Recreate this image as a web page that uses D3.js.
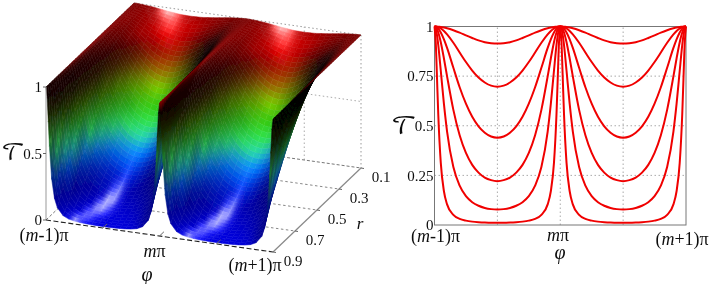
<!DOCTYPE html>
<html>
<head>
<meta charset="utf-8">
<script src="https://cdn.jsdelivr.net/npm/d3@7"></script>
<style>
  html, body { margin: 0; padding: 0; background: #fff; }
  svg { display: block; }
  text { font-family: "Liberation Serif", serif; fill: #111; }
</style>
</head>
<body>
<div id="chart"></div>
<script>
// phase inside one period, as a fraction of it, up to the middle of the well
var phaseSamples = [0, .01, .02, .03, .05, .075, .1, .15, .2, .25, .3, .35, .4, .45, .5];

var rValues = [.1, .15, .2, .25, .3, .35, .4, .45, .5, .55, .6, .65, .7, .75, .8, .85, .9];

// transmission read per r row, one value per phase sample
var transmission = [
    [1, 1, 1, 1, .999, .998, .996, .992, .986, .980, .974, .969, .964, .962, .961],
    [1, 1, 1, .999, .998, .995, .991, .981, .969, .955, .942, .930, .921, .916, .914],
    [1, 1, .999, .998, .996, .991, .984, .965, .943, .920, .898, .879, .864, .855, .852],
    [1, 1, .999, .998, .993, .985, .974, .945, .910, .875, .843, .816, .795, .783, .779],
    [1, 1, .998, .996, .990, .977, .960, .918, .869, .821, .778, .743, .718, .702, .697],
    [1, .999, .998, .994, .985, .966, .943, .884, .820, .759, .706, .664, .635, .617, .611],
    [1, .999, .996, .992, .978, .953, .920, .843, .761, .688, .627, .581, .549, .531, .524],
    [1, .999, .995, .989, .970, .935, .892, .792, .694, .611, .545, .497, .465, .446, .440],
    [1, .998, .993, .984, .958, .912, .855, .732, .619, .529, .462, .415, .383, .366, .360],
    [1, .998, .990, .978, .943, .881, .808, .661, .538, .446, .381, .336, .308, .292, .287],
    [1, .997, .986, .970, .921, .839, .749, .580, .452, .363, .303, .264, .239, .226, .221],
    [1, .995, .980, .957, .890, .784, .674, .489, .364, .283, .232, .199, .179, .168, .165],
    [1, .993, .971, .937, .844, .709, .581, .392, .277, .210, .169, .143, .128, .120, .117],
    [1, .989, .956, .906, .777, .610, .471, .292, .198, .145, .115, .097, .086, .080, .078],
    [1, .981, .928, .851, .674, .482, .346, .197, .128, .092, .072, .060, .053, .049, .048],
    [1, .964, .871, .751, .521, .329, .218, .115, .072, .051, .039, .032, .029, .027, .026],
    [1, .918, .739, .557, .313, .170, .104, .051, .031, .022, .017, .014, .012, .011, .011]
];

var lineRValues = [.15, .3, .45, .6, .75, .9];

var rTicks = [.9, .7, .5, .3, .1];
var zTicks = [0, .5, 1];
var yTicks = [0, .25, .5, .75, 1];
var phaseGrid = [.5, 1, 1.5];

var colorStops = [0, .1, .17, .26, .33, .38, .5, .6, .7, .8, .87, .94, 1];
var colorValues = ['#0000d8', '#0000b0', '#0018c8', '#0070ff', '#20c0d0', '#30f070', '#30c810', '#80d000', '#a86000', '#b00808', '#e80000', '#b00000', '#8c0808'];

var width = 714;
var height = 284;

var svg = d3.select('#chart').append('svg')
    .attr('width', width)
    .attr('height', height);

var defs = svg.append('defs');
defs.append('filter').attr('id', 'soft')
    .attr('x', '-5%').attr('y', '-5%').attr('width', '110%').attr('height', '110%')
    .append('feGaussianBlur').attr('stdDeviation', .6);
defs.append('filter').attr('id', 'soft_text')
    .attr('x', '-10%').attr('y', '-10%').attr('width', '120%').attr('height', '120%')
    .append('feGaussianBlur').attr('stdDeviation', .35);

// phase values in units of pi, two full periods
var one_well = phaseSamples.concat(phaseSamples.slice(0, -1).reverse().map(function(d) { return 1 - d; }));
var phases = one_well.concat(one_well.slice(1).map(function(d) { return d + 1; }));

function expand_row(row) {
    var well = row.concat(row.slice(0, -1).reverse());
    return well.concat(well.slice(1));
}
var grid = transmission.map(expand_row);

// ---- left, 3d surface ----
var phi_x = d3.scaleLinear().domain([0, 2]).range([0, 227]);
var phi_y = d3.scaleLinear().domain([0, 2]).range([0, 32]);
var r_x = d3.scaleLinear().domain([.9, .1]).range([0, 88]);
var r_y = d3.scaleLinear().domain([.9, .1]).range([0, -84]);
var z_y = d3.scaleLinear().domain([0, 1]).range([0, -133]);
var origin = { x: 46, y: 220 };

function project(phi, r, t) {
    return [origin.x + phi_x(phi) + r_x(r), origin.y + phi_y(phi) + r_y(r) + z_y(t)];
}

var color_scale = d3.scaleLinear().domain(colorStops).range(colorValues).clamp(true);
var ambient_scale = d3.scaleLinear().domain([.5, .82]).range([.6, 0]).clamp(true);

var left = svg.append('g').attr('id', 'left_chart');

function edge(g, a, b, stroke, dash, w) {
    g.append('line')
        .attr('x1', a[0]).attr('y1', a[1])
        .attr('x2', b[0]).attr('y2', b[1])
        .attr('stroke', stroke)
        .attr('stroke-width', w || 1)
        .attr('stroke-dasharray', dash);
}

var box = left.append('g').attr('id', 'box');
var dots = '1.5,2.5';
edge(box, project(0, .1, 1), project(2, .1, 1), '#999', dots);
edge(box, project(2, .1, 1), project(2, .1, 0), '#999', dots);
edge(box, project(0, .9, 1), project(0, .1, 1), '#999', dots);
edge(box, project(1.5, .1, 0), project(1.5, .1, 1), '#aaa', dots);
edge(box, project(1, .1, .5), project(2, .1, .5), '#aaa', dots);
edge(box, project(1, .1, 0), project(2, .1, 0), '#777', '3,2');
edge(box, project(0, .9, 0), project(0, .1, 0), '#777', '3,2');
rTicks.slice(1, -1).forEach(function(r) {
    edge(box, project(0, r, 0), project(2, r, 0), '#888', '2.5,2.5');
});

// strips back to front, left to right, so that nearer cells paint over.
// each table cell is shaded as a few strips, as the renderer would blend it
var strips = 3;
var cells = [];
for (var i = 0; i < rValues.length - 1; i++) {
    for (var k = 0; k < strips; k++) {
        for (var j = 0; j < phases.length - 1; j++) {
            cells.push({ i: i, j: j, k: k, id: 'cell_' + i + '_' + k + '_' + j });
        }
    }
}

var half_vec = [.222, -.47, .854];

// colour at a grid node, from the slopes around it
function node_color(i, j) {
    var j0 = Math.max(j - 1, 0), j1 = Math.min(j + 1, phases.length - 1);
    var i0 = Math.max(i - 1, 0), i1 = Math.min(i + 1, rValues.length - 1);
    var slope_u = (grid[i][j1] - grid[i][j0]) / ((phases[j1] - phases[j0]) / 2);
    var slope_v = -(grid[i1][j] - grid[i0][j]) / ((rValues[i1] - rValues[i0]) / .8);
    var len = Math.sqrt(slope_u * slope_u + slope_v * slope_v + 1);
    var dot = (-slope_u * half_vec[0] - slope_v * half_vec[1] + half_vec[2]) / len;
    var abs_dot = Math.abs(dot);
    var t = grid[i][j];
    var base = d3.rgb(color_scale(t - .2 * (1 - abs_dot)));
    var amb = ambient_scale(t);
    var diff = (amb + (1 - amb) * Math.pow(abs_dot, 2)) * 1.08;
    var spec = Math.pow(Math.max(dot, 0), 80) * .85;
    return [base.r * diff + 255 * spec, base.g * diff + 255 * spec, base.b * diff + 255 * spec];
}

var node_colors = rValues.map(function(r, i) {
    return phases.map(function(p, j) { return node_color(i, j); });
});

function blend(a, b, f) {
    return [a[0] + (b[0] - a[0]) * f, a[1] + (b[1] - a[1]) * f, a[2] + (b[2] - a[2]) * f];
}

var cell_line = d3.line()
    .x(function(p) { return project(p[0], p[1], p[2])[0]; })
    .y(function(p) { return project(p[0], p[1], p[2])[1]; });

function corner(d, j, f) {
    var r = rValues[d.i] + (rValues[d.i + 1] - rValues[d.i]) * f;
    var t = grid[d.i][j] + (grid[d.i + 1][j] - grid[d.i][j]) * f;
    return [phases[j], r, t];
}

function cell_path(d) {
    var f0 = d.k / strips, f1 = (d.k + 1) / strips;
    return cell_line([corner(d, d.j, f0), corner(d, d.j + 1, f0), corner(d, d.j + 1, f1), corner(d, d.j, f1)]) + 'Z';
}

// a gradient across each strip, so the flat cells do not show as blocks
cells.forEach(function(d) {
    var fm = (d.k + .5) / strips;
    var pa = corner(d, d.j, fm), pb = corner(d, d.j + 1, fm);
    var a = project(pa[0], pa[1], pa[2]), b = project(pb[0], pb[1], pb[2]);
    var ca = blend(node_colors[d.i][d.j], node_colors[d.i + 1][d.j], fm);
    var cb = blend(node_colors[d.i][d.j + 1], node_colors[d.i + 1][d.j + 1], fm);
    var gr = defs.append('linearGradient').attr('id', d.id)
        .attr('gradientUnits', 'userSpaceOnUse')
        .attr('x1', a[0]).attr('y1', a[1]).attr('x2', b[0]).attr('y2', b[1]);
    gr.append('stop').attr('offset', 0).attr('stop-color', d3.rgb(ca[0], ca[1], ca[2]).formatRgb());
    gr.append('stop').attr('offset', 1).attr('stop-color', d3.rgb(cb[0], cb[1], cb[2]).formatRgb());
});

left.append('g').attr('id', 'surface')
    .attr('filter', 'url(#soft)')
    .selectAll('path').data(cells).enter()
    .append('path')
    .attr('d', cell_path)
    .attr('fill', function(d) { return 'url(#' + d.id + ')'; })
    .attr('stroke', function(d) { return 'url(#' + d.id + ')'; })
    .attr('stroke-width', .5);

var axes = left.append('g').attr('id', 'axes_3d');
edge(axes, project(0, .9, 1), project(0, .9, 0), '#999');
edge(axes, project(0, .9, 0), project(2, .9, 0), '#222', '5,2.5', 1.1);
edge(axes, project(2, .9, 0), project(2, .1, 0), '#888', null, 1.2);
phaseGrid.forEach(function(p) {
    edge(axes, project(p, .9, 0), project(p, .86, 0), '#666');
});
rTicks.forEach(function(r) {
    var a = project(2, r, 0);
    edge(axes, a, [a[0] + 3, a[1] + .5], '#666');
});
zTicks.forEach(function(z) {
    var a = project(0, .9, z);
    edge(axes, a, [a[0] - 3, a[1]], '#666');
});

var label_size = 15;
var phase_size = 18;
var t_left = left.append('g').attr('filter', 'url(#soft_text)').style('font-size', label_size + 'px');

zTicks.forEach(function(z) {
    var a = project(0, .9, z);
    t_left.append('text').attr('x', a[0] - 4).attr('y', a[1] + 5)
        .attr('text-anchor', 'end').text(d3.format('')(z));
});
rTicks.forEach(function(r) {
    var a = project(2, r, 0);
    t_left.append('text').attr('x', a[0] + 20).attr('y', a[1] + 14)
        .attr('text-anchor', 'middle').text(d3.format('.1f')(r));
});

function phase_label(g, x, y, k) {
    var t = g.append('text').attr('x', x).attr('y', y).attr('text-anchor', 'middle')
        .style('font-size', phase_size + 'px');
    if (k === 1) {
        t.append('tspan').style('font-style', 'italic').text('m');
        t.append('tspan').text('π');
    } else {
        t.append('tspan').text('(');
        t.append('tspan').style('font-style', 'italic').text('m');
        t.append('tspan').text(k === 0 ? '-1)π' : '+1)π');
    }
}
phase_label(t_left, 44, 241, 0);
phase_label(t_left, 154.5, 257, 1);
phase_label(t_left, 255, 271, 2);

t_left.append('text').attr('x', 147).attr('y', 281).attr('text-anchor', 'middle')
    .style('font-style', 'italic').style('font-size', '20px').text('φ');
t_left.append('text').attr('x', 360).attr('y', 229).attr('text-anchor', 'middle')
    .style('font-style', 'italic').style('font-size', '17px').text('r');
t_left.append('text').attr('x', 13).attr('y', 160).attr('text-anchor', 'middle')
    .style('font-family', '"DejaVu Math TeX Gyre", "DejaVu Sans", serif')
    .style('font-size', '23px').text('𝒯');

// ---- right, line chart ----
var x = d3.scaleLinear().domain([0, 2]).range([434.5, 686]);
var y = d3.scaleLinear().domain([0, 1]).range([225, 26.5]);

var right = svg.append('g').attr('id', 'right_chart');

right.append('g').attr('id', 'grid_markings_vert')
    .selectAll('line').data(phaseGrid).enter()
    .append('line')
    .attr('x1', function(d) { return x(d); })
    .attr('x2', function(d) { return x(d); })
    .attr('y1', y(0)).attr('y2', y(1))
    .attr('stroke', '#aaa').attr('stroke-dasharray', dots);

right.append('g').attr('id', 'grid_markings_horz')
    .selectAll('line').data(yTicks.slice(1, -1)).enter()
    .append('line')
    .attr('x1', x(0)).attr('x2', x(2))
    .attr('y1', function(d) { return y(d); })
    .attr('y2', function(d) { return y(d); })
    .attr('stroke', '#aaa').attr('stroke-dasharray', dots);

right.append('rect')
    .attr('x', x(0)).attr('y', y(1))
    .attr('width', x(2) - x(0)).attr('height', y(0) - y(1))
    .attr('fill', 'none').attr('stroke', '#777');

var line = d3.line()
    .x(function(d) { return x(d[0]); })
    .y(function(d) { return y(d[1]); })
    .curve(d3.curveMonotoneX);

right.append('g').attr('id', 'curves')
    .selectAll('path').data(lineRValues).enter()
    .append('path')
    .attr('d', function(r) {
        var row = grid[rValues.indexOf(r)];
        return line(phases.map(function(p, i) { return [p, row[i]]; }));
    })
    .attr('fill', 'none')
    .attr('stroke', '#f00000')
    .attr('stroke-width', 2);

var t_right = right.append('g').attr('filter', 'url(#soft_text)').style('font-size', label_size + 'px');

t_right.append('g').attr('transform', 'translate(' + x(0) + ',0)')
    .call(d3.axisLeft(y).tickValues(yTicks).tickSize(0).tickPadding(1).tickFormat(d3.format('')))
    .call(function(g) {
        g.select('.domain').remove();
        g.selectAll('text')
            .style('font-family', '"Liberation Serif", serif')
            .style('font-size', label_size + 'px');
    });

phase_label(t_right, 435.5, 242, 0);
phase_label(t_right, 558, 241, 1);
phase_label(t_right, 682, 245, 2);

t_right.append('text').attr('x', 560).attr('y', 259).attr('text-anchor', 'middle')
    .style('font-style', 'italic').style('font-size', '20px').text('φ');
t_right.append('text').attr('x', 404).attr('y', 134).attr('text-anchor', 'middle')
    .style('font-family', '"DejaVu Math TeX Gyre", "DejaVu Sans", serif')
    .style('font-size', '25px').text('𝒯');
</script>
</body>
</html>
